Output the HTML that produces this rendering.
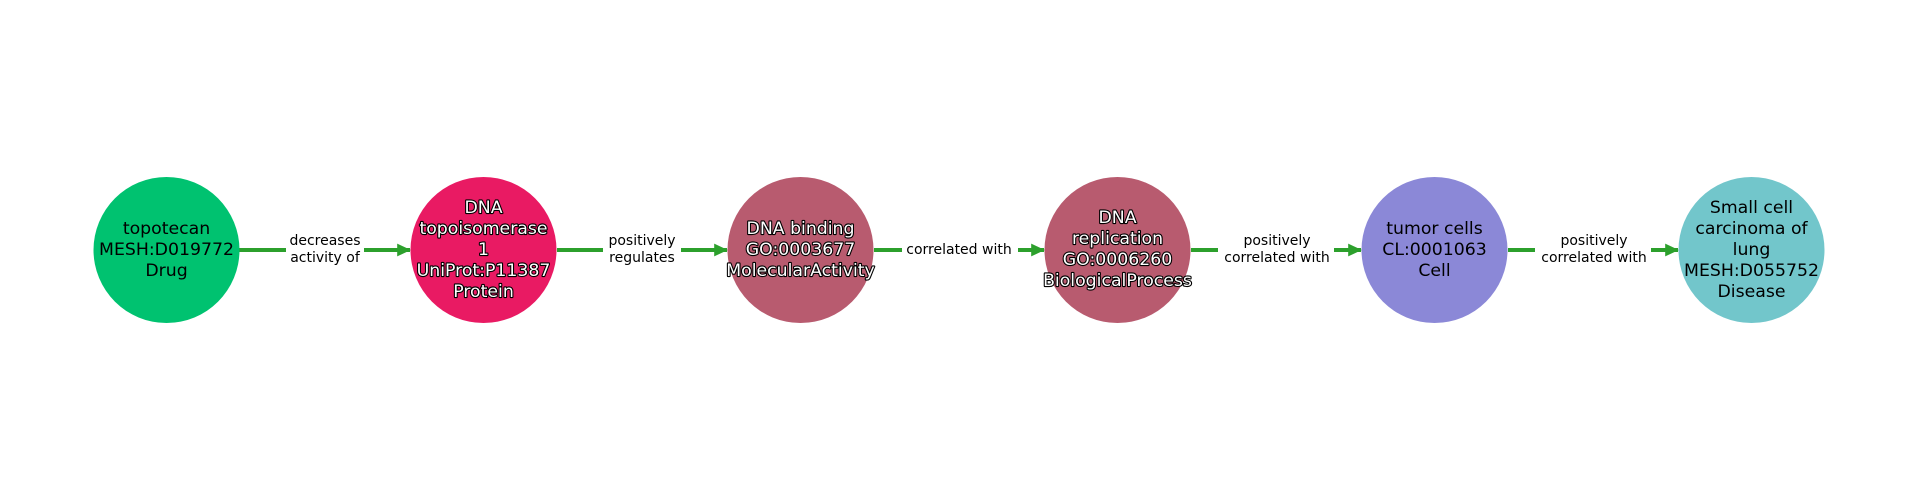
<!DOCTYPE html>
<html><head><meta charset="utf-8"><style>
html,body{margin:0;padding:0;background:#fff;}
svg{display:block;}
text{font-family:"DejaVu Sans","Liberation Sans",sans-serif;}
.n{font-size:17.3px;text-anchor:middle;dominant-baseline:central;fill:#000;}
.o{fill:#fff;stroke:#000;stroke-width:2.2px;paint-order:stroke;stroke-linejoin:round;}
.e{font-size:14px;text-anchor:middle;dominant-baseline:central;fill:#000;}
</style></head><body>
<svg width="1920" height="500" viewBox="0 0 1920 500" xmlns="http://www.w3.org/2000/svg">
<defs>
<marker id="a" markerWidth="4" markerHeight="4" refX="3.2" refY="2" orient="auto" markerUnits="strokeWidth">
<path d="M0,0.4 L3.4,2 L0,3.6 Z" fill="#2ca02c"/>
</marker>
</defs>
<g stroke="#2ca02c" stroke-width="4" fill="none">
<line x1="239" y1="250" x2="410" y2="250" marker-end="url(#a)"/>
<line x1="557" y1="250" x2="727" y2="250" marker-end="url(#a)"/>
<line x1="874" y1="250" x2="1044" y2="250" marker-end="url(#a)"/>
<line x1="1191" y1="250" x2="1361" y2="250" marker-end="url(#a)"/>
<line x1="1508" y1="250" x2="1678" y2="250" marker-end="url(#a)"/>
</g>
<g fill="#fff">
<rect x="286" y="232" width="78" height="36"/>
<rect x="603" y="232" width="78" height="36"/>
<rect x="902" y="240" width="116" height="20"/>
<rect x="1218" y="232" width="116" height="36"/>
<rect x="1535" y="232" width="116" height="36"/>
</g>
<text class="e" x="325" y="241">decreases</text><text class="e" x="325" y="258">activity of</text>
<text class="e" x="642" y="241">positively</text><text class="e" x="642" y="258">regulates</text>
<text class="e" x="959" y="250">correlated with</text>
<text class="e" x="1277" y="241">positively</text><text class="e" x="1277" y="258">correlated with</text>
<text class="e" x="1594" y="241">positively</text><text class="e" x="1594" y="258">correlated with</text>

<circle cx="166.5" cy="250" r="73" fill="#00c270"/>
<circle cx="483.5" cy="250" r="73" fill="#e91a63"/>
<circle cx="800.5" cy="250" r="73" fill="#b85b6f"/>
<circle cx="1117.5" cy="250" r="73" fill="#b85b6f"/>
<circle cx="1434.5" cy="250" r="73" fill="#8b88d7"/>
<circle cx="1751.5" cy="250" r="73" fill="#72c6cb"/>

<text class="n" x="166.5" y="229">topotecan</text>
<text class="n" x="166.5" y="250">MESH:D019772</text>
<text class="n" x="166.5" y="271">Drug</text>

<text class="n o" x="483.5" y="208">DNA</text>
<text class="n o" x="483.5" y="229">topoisomerase</text>
<text class="n o" x="483.5" y="250">1</text>
<text class="n o" x="483.5" y="271">UniProt:P11387</text>
<text class="n o" x="483.5" y="292">Protein</text>

<text class="n o" x="800.5" y="229">DNA binding</text>
<text class="n o" x="800.5" y="250">GO:0003677</text>
<text class="n o" x="800.5" y="271">MolecularActivity</text>

<text class="n o" x="1117.5" y="218">DNA</text>
<text class="n o" x="1117.5" y="239">replication</text>
<text class="n o" x="1117.5" y="260">GO:0006260</text>
<text class="n o" x="1117.5" y="281">BiologicalProcess</text>

<text class="n" x="1434.5" y="229">tumor cells</text>
<text class="n" x="1434.5" y="250">CL:0001063</text>
<text class="n" x="1434.5" y="271">Cell</text>

<text class="n" x="1751.5" y="208">Small cell</text>
<text class="n" x="1751.5" y="229">carcinoma of</text>
<text class="n" x="1751.5" y="250">lung</text>
<text class="n" x="1751.5" y="271">MESH:D055752</text>
<text class="n" x="1751.5" y="292">Disease</text>
</svg>
</body></html>
